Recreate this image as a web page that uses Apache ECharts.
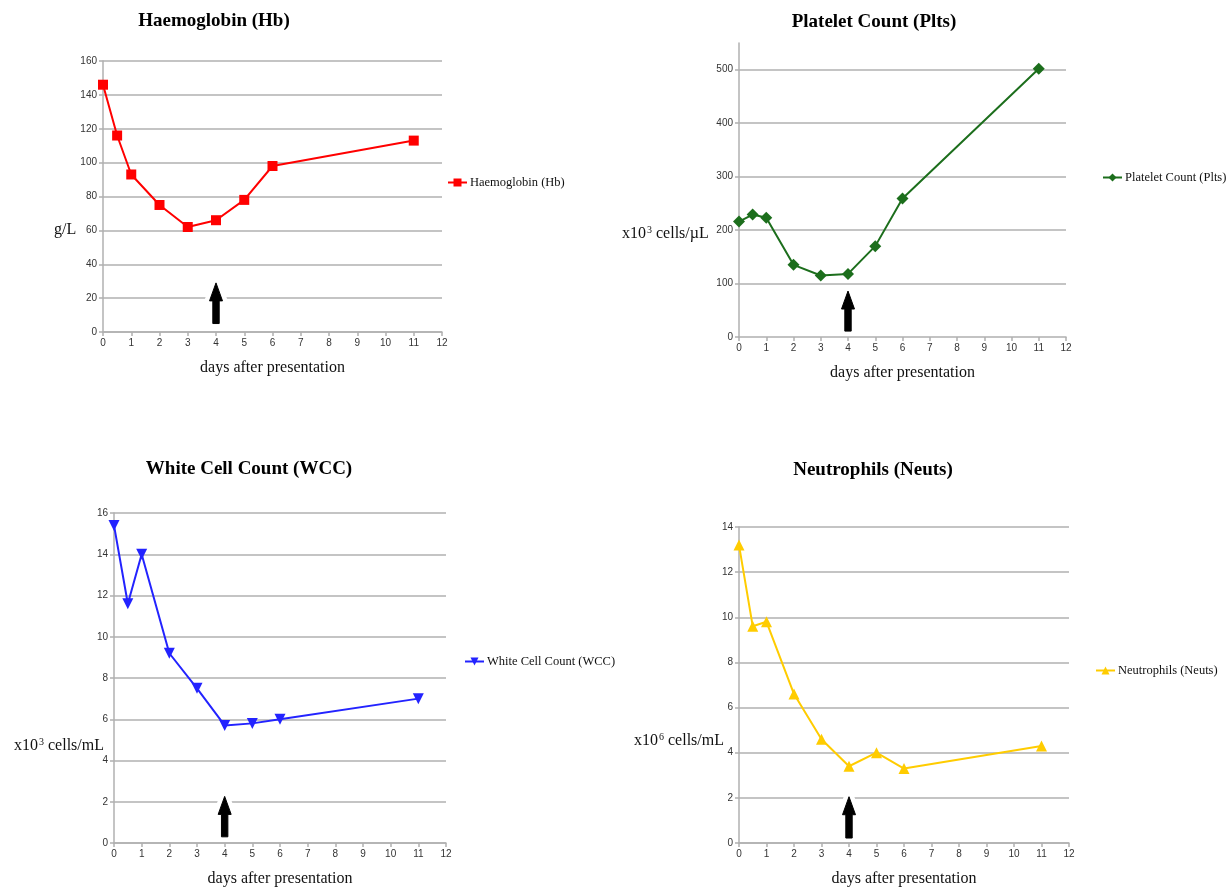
<!DOCTYPE html>
<html><head><meta charset="utf-8">
<script src="https://cdn.jsdelivr.net/npm/echarts@6/dist/echarts.min.js"></script>
<style>html,body{margin:0;padding:0;background:#fff}#c{width:1226px;height:888px}</style>
</head><body><div id="c"></div>
<script>
const days = [0, 0.5, 1, 2, 3, 4, 5, 6, 11];
const hb = [146, 116, 93, 75, 62, 66, 78, 98, 113];
const plts = [216, 229, 223, 135, 115, 118, 170, 259, 502];
const wcc = [15.4, 11.6, 14.0, 9.2, 7.5, 5.7, 5.8, 6.0, 7.0];
const neuts = [13.2, 9.6, 9.8, 6.6, 4.6, 3.4, 4.0, 3.3, 4.3];
// arrows: [day, base, tip]
const hbArrow = [4, 5, 29];
const pltsArrow = [4, 11, 86];
const wccArrow = [4, 0.3, 2.26];
const neutsArrow = [4, 0.22, 2.05];
const pltsTicks = [0, 100, 200, 300, 400, 500];
const pltsGridTicks = [100, 200, 300, 400, 500];

const SERIF = '"Liberation Serif", "Times New Roman", serif';
const SANS = '"Liberation Sans", Arial, sans-serif';
const GRID = '#b0b0b0';

const grids = [
  {left: 103, top: 61, width: 339, height: 271},
  {left: 739, top: 43, width: 327, height: 294},
  {left: 114, top: 513, width: 332, height: 330},
  {left: 739, top: 527, width: 330, height: 319}
];

function xAxis(i) {
  return {
    type: 'value', gridIndex: i, min: 0, max: 12, interval: 1,
    name: 'days after presentation', nameLocation: 'middle', nameGap: 28,
    nameTextStyle: {fontFamily: SERIF, fontSize: 16, color: '#111'},
    axisLine: {lineStyle: {color: GRID, width: 1.5}},
    axisTick: {show: true, length: 4, lineStyle: {color: GRID, width: 1.5}},
    axisLabel: {fontFamily: SANS, fontSize: 10, color: '#333', margin: 6},
    splitLine: {show: false},
    z: 6
  };
}
function yAxis(i, max, interval, split, custom) {
  const ax = {
    type: 'value', gridIndex: i, min: 0, max: max, interval: interval,
    axisLine: {show: true, lineStyle: {color: GRID, width: 1.5}},
    axisTick: {show: true, length: 4, lineStyle: {color: GRID, width: 1.5}},
    axisLabel: {fontFamily: SANS, fontSize: 10, color: '#333', margin: 6,
      formatter: v => (v % interval === 0 ? String(v) : '')},
    splitLine: {show: split, lineStyle: {color: GRID, width: 1.5}}
  };
  if (custom) {
    ax.axisTick.customValues = custom;
    ax.axisLabel.customValues = custom;
  }
  return ax;
}
function lineSeries(name, vals, i, color, symbol, rot, size) {
  return {
    name: name, type: 'line', xAxisIndex: i, yAxisIndex: i,
    data: days.map((d, k) => [d, vals[k]]),
    symbol: symbol, symbolSize: size, symbolRotate: rot,
    lineStyle: {color: color, width: 2},
    itemStyle: {color: color},
    z: 5, animation: false
  };
}
function arrowSeries(i, arr) {
  return {
    type: 'custom', xAxisIndex: i, yAxisIndex: i, silent: true, animation: false, z: 4,
    data: [arr],
    renderItem: function (params, api) {
      const base = api.coord([api.value(0), api.value(1)]);
      const tip = api.coord([api.value(0), api.value(2)]);
      const x = base[0];
      const hw = 3.2, hh = 6.5, hl = 18;
      const mk = (b) => [[x, tip[1]], [x + hh, tip[1] + hl], [x + hw, tip[1] + hl], [x + hw, b],
                   [x - hw, b], [x - hw, tip[1] + hl], [x - hh, tip[1] + hl]];
      return {type: 'group', children: [
        {type: 'polygon', shape: {points: mk(base[1] - 8)}, style: {fill: '#fff', stroke: '#fff', lineWidth: 10}},
        {type: 'polygon', shape: {points: mk(base[1])}, style: {fill: '#000', stroke: '#000', lineWidth: 1}}
      ]};
    }
  };
}
function legend(name, left, top) {
  return {
    data: [name], left: left, top: top, orient: 'vertical',
    itemWidth: 19, itemHeight: 10, itemGap: 4,
    textStyle: {fontFamily: SERIF, fontSize: 12.5, color: '#111', padding: [0, 0, 0, -2]}
  };
}
function title(text, cx, top) {
  return {text: text, left: cx, top: top, textAlign: 'center',
    textStyle: {fontFamily: SERIF, fontSize: 19, fontWeight: 'bold', color: '#000'}};
}
function unitLabel(base, sup, rest, left, top) {
  return {
    text: sup ? '{a|' + base + '}{s|' + sup + '}{a|' + rest + '}' : '{a|' + base + '}',
    left: left, top: top,
    textStyle: {fontWeight: 'normal', rich: {
      a: {fontFamily: SERIF, fontSize: 16, color: '#111', fontWeight: 'normal'},
      s: {fontFamily: SERIF, fontSize: 10, color: '#111', fontWeight: 'normal', verticalAlign: 'top', padding: [0, 4, 8, 1]}
    }}
  };
}

const pltsSeries = lineSeries('Platelet Count (Plts)', plts, 1, '#1c6e1c', 'diamond', 0, 12);
pltsSeries.markLine = {
  silent: true, symbol: 'none', label: {show: false}, animation: false,
  lineStyle: {color: GRID, width: 1.5, type: 'solid'},
  data: pltsGridTicks.map(v => ({yAxis: v}))
};

const option = {
  backgroundColor: '#fff',
  animation: false,
  title: [
    title('Haemoglobin (Hb)', 209, 7),
    title('Platelet Count (Plts)', 869, 8),
    title('White Cell Count (WCC)', 244, 455),
    title('Neutrophils (Neuts)', 868, 456),
    unitLabel('g/L', '', '', 49, 217),
    unitLabel('x10', '3', 'cells/µL', 617, 220),
    unitLabel('x10', '3', 'cells/mL', 9, 732),
    unitLabel('x10', '6', 'cells/mL', 629, 727)
  ],
  legend: [
    legend('Haemoglobin (Hb)', 442, 171),
    legend('Platelet Count (Plts)', 1097, 166),
    legend('White Cell Count (WCC)', 459, 650),
    legend('Neutrophils (Neuts)', 1090, 659)
  ],
  grid: grids,
  xAxis: [xAxis(0), xAxis(1), xAxis(2), xAxis(3)],
  yAxis: [yAxis(0, 160, 20, true), yAxis(1, 550, 100, false, pltsTicks), yAxis(2, 16, 2, true), yAxis(3, 14, 2, true)],
  series: [
    lineSeries('Haemoglobin (Hb)', hb, 0, '#ff0000', 'rect', 0, 10),
    pltsSeries,
    lineSeries('White Cell Count (WCC)', wcc, 2, '#2323ff', 'triangle', 180, 11),
    lineSeries('Neutrophils (Neuts)', neuts, 3, '#ffcc00', 'triangle', 0, 11),
    arrowSeries(0, hbArrow),
    arrowSeries(1, pltsArrow),
    arrowSeries(2, wccArrow),
    arrowSeries(3, neutsArrow)
  ]
};
const chart = echarts.init(document.getElementById('c'), null, {renderer: 'canvas'});
chart.setOption(option);
</script></body></html>
